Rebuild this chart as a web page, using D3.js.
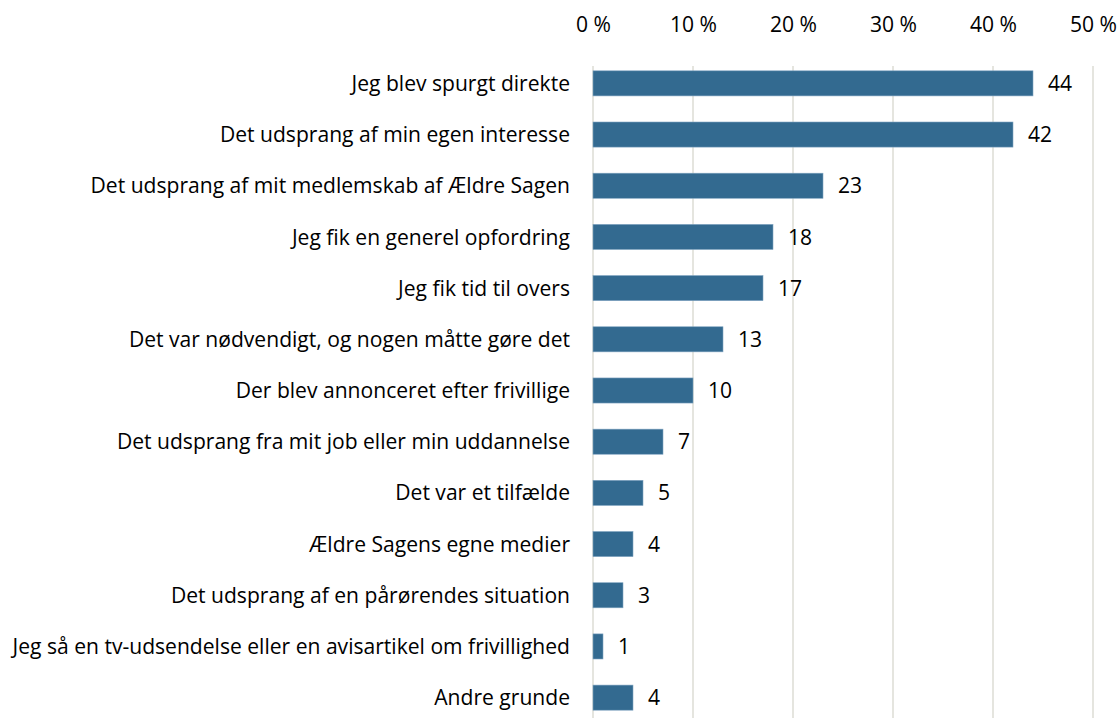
<!DOCTYPE html>
<html>
<head>
<meta charset="utf-8">
<script src="https://cdn.jsdelivr.net/npm/d3@7"></script>
<style>
  html, body { margin: 0; padding: 0; background: #fff; }
  svg text { font-family: "Open Sans", "Noto Sans", sans-serif; fill: #000; }
</style>
</head>
<body>
<svg id="chart" width="1119" height="718"></svg>
<script>
const categories = [
  "Jeg blev spurgt direkte",
  "Det udsprang af min egen interesse",
  "Det udsprang af mit medlemskab af Ældre Sagen",
  "Jeg fik en generel opfordring",
  "Jeg fik tid til overs",
  "Det var nødvendigt, og nogen måtte gøre det",
  "Der blev annonceret efter frivillige",
  "Det udsprang fra mit job eller min uddannelse",
  "Det var et tilfælde",
  "Ældre Sagens egne medier",
  "Det udsprang af en pårørendes situation",
  "Jeg så en tv-udsendelse eller en avisartikel om frivillighed",
  "Andre grunde"
];
const values = [44, 42, 23, 18, 17, 13, 10, 7, 5, 4, 3, 1, 4];
const ticks = [0, 10, 20, 30, 40, 50];

const svg = d3.select("#chart");
const plotLeft = 593, plotRight = 1093, plotTop = 57, plotBottom = 724;
const labelRight = 570, labelLeft = 12;

const x = d3.scaleLinear().domain([0, 50]).range([plotLeft, plotRight]);
const y = d3.scaleBand().domain(categories).range([plotTop, plotBottom]).paddingInner(0.51).paddingOuter(0.27);

// pick a font size so the longest category label spans the label column
const probe = svg.append("text").attr("font-size", 20).text(categories[11]);
const fontSize = 20 * (labelRight - labelLeft) / probe.node().getComputedTextLength();
probe.remove();

// vertical gridlines
svg.append("g").selectAll("line").data(ticks).join("line")
  .attr("x1", d => x(d)).attr("x2", d => x(d))
  .attr("y1", 66).attr("y2", 718)
  .attr("stroke", "#dcdcd4").attr("stroke-width", 1.5);

// top tick labels
const xAxis = d3.axisTop(x).tickValues(ticks).tickSize(0).tickFormat(d => d + " %");
svg.append("g").attr("transform", "translate(0,35)").call(xAxis)
  .call(g => g.select(".domain").remove())
  .call(g => g.selectAll("text").attr("font-size", fontSize).attr("dy", 0).attr("fill", "#000")
    .style("font-family", "'Open Sans', 'Noto Sans', sans-serif"));

// bars
svg.append("g").selectAll("rect").data(values).join("rect")
  .attr("x", x(0))
  .attr("y", (d, i) => y(categories[i]))
  .attr("width", d => x(d) - x(0))
  .attr("height", y.bandwidth())
  .attr("fill", "#336a90")
  .attr("stroke", "#7fa3c0").attr("stroke-width", 0.6);

// value labels
svg.append("g").selectAll("text").data(values).join("text")
  .attr("x", d => x(d) + 15)
  .attr("y", (d, i) => y(categories[i]) + y.bandwidth() / 2)
  .attr("dy", "0.36em")
  .attr("font-size", fontSize)
  .text(d => d);

// category labels
svg.append("g").selectAll("text").data(categories).join("text")
  .attr("x", labelRight)
  .attr("y", d => y(d) + y.bandwidth() / 2)
  .attr("dy", "0.36em")
  .attr("text-anchor", "end")
  .attr("font-size", fontSize)
  .text(d => d);
</script>
</body>
</html>
